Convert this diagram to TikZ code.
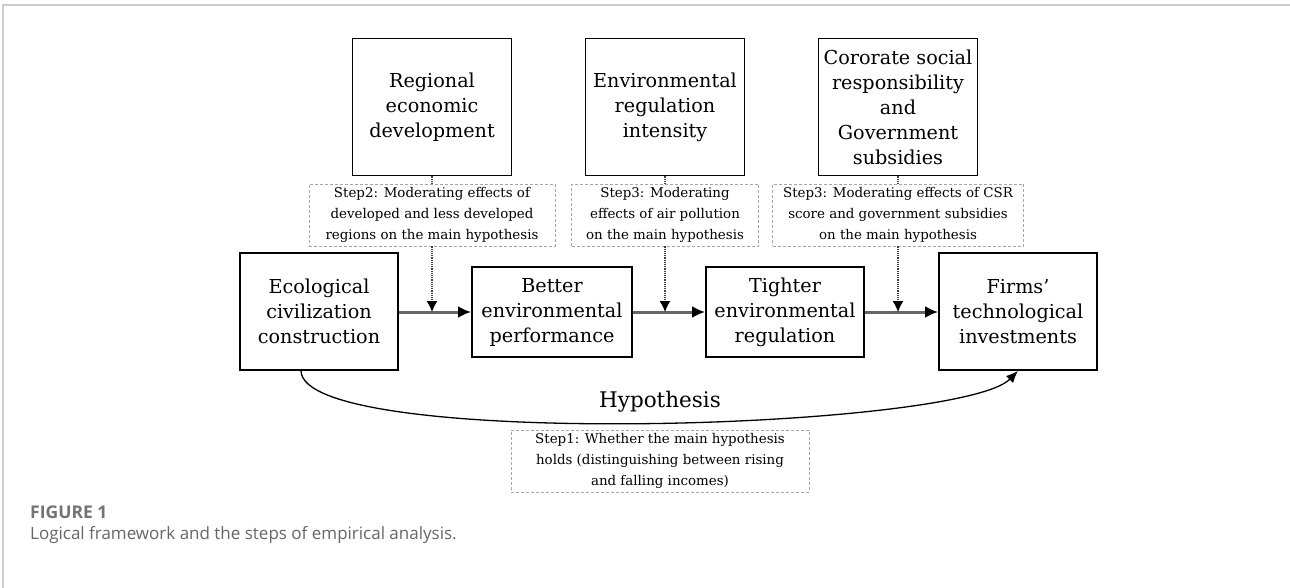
\documentclass[tikz,border=0pt]{standalone}
\usepackage{fontspec}
\setmainfont{DejaVu Serif}
\newfontfamily\capfont{Open Sans}
\usetikzlibrary{arrows.meta}

\begin{document}
\begin{tikzpicture}[x=1pt, y=-1pt,
  factor/.style={rectangle, draw=black, line width=1.8pt, inner sep=0pt, align=center, font=\fontsize{19.2}{25}\selectfont},
  moderator/.style={factor, minimum width=159pt, minimum height=137pt},
  stepnote/.style={rectangle, draw=black!35, dash pattern=on 3pt off 2pt, line width=0.9pt, inner sep=0pt, align=center, minimum height=62pt, font=\fontsize{13.4}{21}\selectfont},
  path/.style={-{Latex[length=13pt, width=12pt, color=black]}, draw=black!60, line width=3pt},
  effect/.style={-{Latex[length=11pt, width=11pt, color=black]}, draw=black!75, line width=1.2pt, densely dotted},
  caption/.style={anchor=west, inner sep=0pt, text=black!60}]

\useasboundingbox (0,0) rectangle (1290,588);
\draw [black!20, line width=1.5pt] (3,588) -- (3,5) -- (1290,5);

% moderators on top
\node [moderator] (RED) at (432, 107) {Regional\\economic\\development};
\node [moderator] (ERI) at (665, 107) {Environmental\\regulation\\intensity};
\node [moderator] (CSR) at (898, 107) {Cororate social\\responsibility\\and\\Government\\subsidies};

\node [stepnote, minimum width=246pt] (S2) at (432, 215) {Step2: Moderating effects of\\developed and less developed\\regions on the main hypothesis};
\node [stepnote, minimum width=187pt] (S3A) at (665, 215) {Step3: Moderating\\effects of air pollution\\on the main hypothesis};
\node [stepnote, minimum width=251pt] (S3B) at (898, 215) {Step3: Moderating effects of CSR\\score and government subsidies\\on the main hypothesis};

% main chain
\node [factor, minimum width=158pt, minimum height=117pt] (ECC) at (319, 311.5) {Ecological\\civilization\\construction};
\node [factor, minimum width=160pt, minimum height=90pt] (BEP) at (552, 312) {Better\\environmental\\performance};
\node [factor, minimum width=158pt, minimum height=90pt] (TER) at (785, 312) {Tighter\\environmental\\regulation};
\node [factor, minimum width=158pt, minimum height=117pt] (FTI) at (1018, 311.5) {Firms'\\technological\\investments};

\node [inner sep=0pt, font=\fontsize{21.5}{25}\selectfont] (H) at (660, 402) {Hypothesis};
\node [stepnote, minimum width=298pt] (S1) at (660, 461) {Step1: Whether the main hypothesis\\holds (distinguishing between rising\\and falling incomes)};

\draw [path] (ECC.east |- BEP.west) to (BEP);
\draw [path] (BEP) to (TER);
\draw [path] (TER) to (FTI.west |- TER.east);

\draw [draw=black!75, line width=1.2pt, densely dotted] (RED) to (S2);
\draw [draw=black!75, line width=1.2pt, densely dotted] (ERI) to (S3A);
\draw [draw=black!75, line width=1.2pt, densely dotted] (CSR) to (S3B);
\draw [effect] (S2) to (S2.south |- BEP.west);
\draw [effect] (S3A) to (S3A.south |- TER.west);
\draw [effect] (S3B) to (S3B.south |- TER.east);

\draw [-{Latex[length=12pt, width=10pt]}, line width=1.3pt] ([xshift=-18pt]ECC.south) .. controls (303,450) and (960,430) .. (FTI.south);

% caption
\node [caption, font=\capfont\bfseries\fontsize{17.5}{20}\selectfont, text=black!55] (FIG) at (30, 512) {FIGURE 1};
\node [caption, font=\capfont\fontsize{17}{20}\selectfont] (CAP) at (30, 535) {Logical framework and the steps of empirical analysis.};

\end{tikzpicture}
\end{document}
